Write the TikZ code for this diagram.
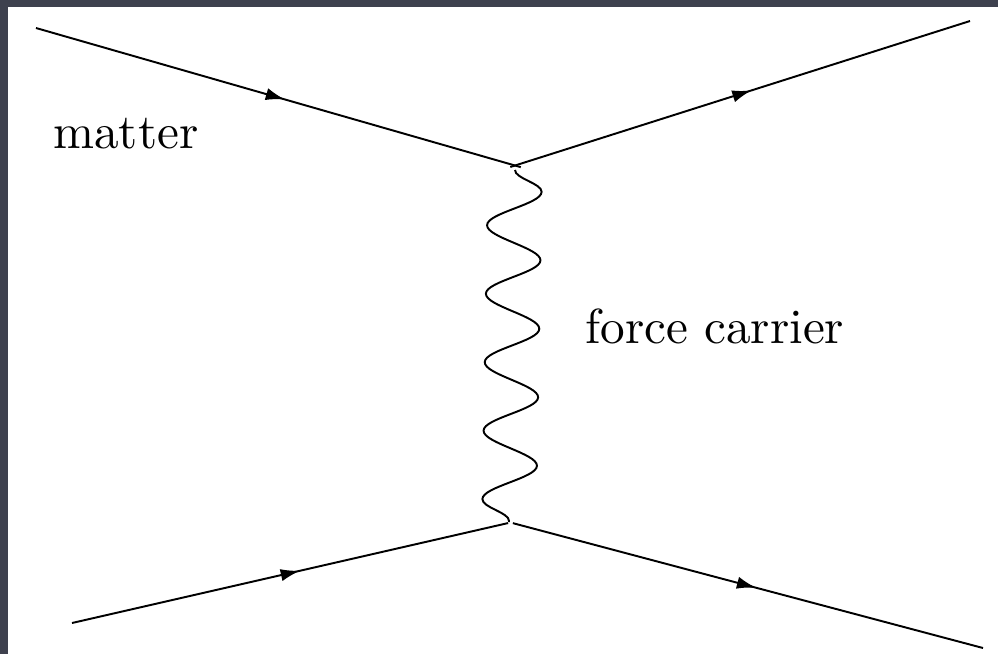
\documentclass[tikz,border=0pt]{standalone}
\usepackage{fontspec}
\newfontfamily\labelfont{lmroman10-regular.otf}
\usetikzlibrary{arrows.meta,decorations.markings,decorations.pathmorphing}
\definecolor{frame}{RGB}{62,65,78}
\tikzset{
  fermion/.style={line width=1.1pt, postaction={decorate},
    decoration={markings, mark=at position 0.52 with {\arrow{Latex[length=11pt,width=7pt]}}}},
  photon/.style={line width=1.1pt, decorate,
    decoration={snake, amplitude=0.54cm, segment length=1.37cm, pre length=0pt, post length=0pt}},
  caption/.style={font=\labelfont\fontsize{28}{34}\selectfont, inner sep=0pt, anchor=base west}
}
\begin{document}
\begin{tikzpicture}[x=0.02cm, y=-0.02cm]
  % frame round the page
  \fill[frame] (0,0) rectangle (998,654);
  \fill[white] (8,7) rectangle (998,654);
  \useasboundingbox (0,0) rectangle (998,654);

  % outer ends and vertices
  \coordinate (inA) at (36,28);
  \coordinate (inB) at (72,623);
  \coordinate (outA) at (970,21);
  \coordinate (outB) at (983,648);
  \coordinate (vtop) at (515,165.5);
  \coordinate (vbot) at (510.5,522.5);
  \coordinate (ptop) at (515,170);
  \coordinate (pbot) at (509,522);

  % matter lines
  \draw[fermion, shorten >=-3.4pt] (inA) -- (vtop);
  \draw[fermion, shorten <=-2.8pt] (vtop) -- (outA);
  \draw[fermion, shorten >=1.4pt] (inB) -- (vbot);
  \draw[fermion, shorten <=1.4pt] (vbot) -- (outB);

  % exchanged boson
  \draw[photon] (ptop) -- (pbot);

  % labels
  \node[caption] (matter) at (53,148) {matter};
  \node[caption] (carrier) at (585,343) {force carrier};
\end{tikzpicture}
\end{document}
